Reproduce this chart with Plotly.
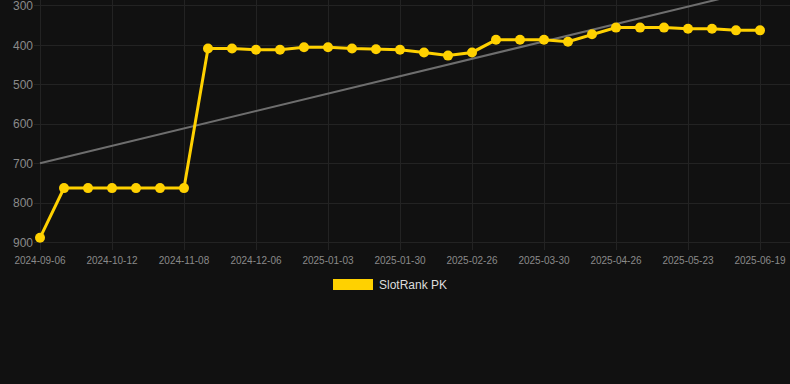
import numpy as np
import plotly.graph_objects as go

dates = [
    "2024-09-06", "2024-09-18", "2024-09-30",
    "2024-10-12", "2024-10-21", "2024-10-30",
    "2024-11-08", "2024-11-17", "2024-11-26",
    "2024-12-06", "2024-12-15", "2024-12-24",
    "2025-01-03", "2025-01-12", "2025-01-21",
    "2025-01-30", "2025-02-08", "2025-02-17",
    "2025-02-26", "2025-03-07", "2025-03-18",
    "2025-03-30", "2025-04-08", "2025-04-17",
    "2025-04-26", "2025-05-05", "2025-05-14",
    "2025-05-23", "2025-06-01", "2025-06-10",
    "2025-06-19",
]
rank = [
    888, 762, 762, 762, 762, 762, 762,
    408, 408, 411, 411, 405, 405, 408, 410, 411,
    418, 426, 418, 386, 386, 386, 391,
    372, 355, 355, 355, 358, 358, 362, 362,
]
tick_labels = dates[::3]
y_ticks = [300, 400, 500, 600, 700, 800, 900]
series_name = "SlotRank PK"

idx = np.arange(len(rank))
slope, intercept = np.polyfit(idx, rank, 1)
trend = intercept + slope * idx

BG = "#111111"
GOLD = "#FFD100"
GRID = "#232323"
TICK = "#8a8a8a"

fig = go.Figure()
fig.add_trace(go.Scatter(
    x=dates, y=trend, mode="lines",
    line=dict(color="#6e6e6e", width=2),
    hoverinfo="skip", showlegend=False,
))
fig.add_trace(go.Scatter(
    x=dates, y=rank, mode="lines+markers", name=series_name,
    line=dict(color=GOLD, width=3),
    marker=dict(color=GOLD, size=10),
    showlegend=False,
))

fig.update_layout(
    width=790, height=384,
    paper_bgcolor=BG, plot_bgcolor=BG,
    margin=dict(l=34, r=0, t=0, b=134),
    showlegend=False,
    font=dict(family="Liberation Sans, Arial, sans-serif", color=TICK),
    xaxis=dict(
        type="category",
        categoryorder="array", categoryarray=dates,
        range=[-0.25, len(dates) + 0.25],
        tickmode="array", tickvals=tick_labels, ticktext=tick_labels,
        tickfont=dict(size=10, color=TICK),
        showgrid=True, gridcolor=GRID, gridwidth=1,
        zeroline=False, showline=False, ticks="",
        tickangle=0, ticklabeloverflow="allow",
        ticklabelstandoff=3,
    ),
    yaxis=dict(
        range=[919, 285],
        tickmode="array", tickvals=y_ticks,
        tickfont=dict(size=12, color=TICK),
        showgrid=True, gridcolor=GRID, gridwidth=1,
        zeroline=False, showline=False, ticks="",
        ticklabeloverflow="allow",
    ),
)

# custom legend
fig.add_shape(type="rect", xref="paper", yref="paper",
              x0=(333 - 34) / 756, x1=(373 - 34) / 756,
              y0=-(290 - 250) / 250, y1=-(279 - 250) / 250,
              fillcolor=GOLD, line=dict(width=0))
fig.add_annotation(xref="paper", yref="paper",
                   x=(377 - 34) / 756, y=-(284.5 - 250) / 250,
                   xanchor="left", yanchor="middle",
                   text=series_name, showarrow=False,
                   font=dict(size=12, color="#dddddd"))

fig.write_html("out.html",
               config={"displayModeBar": False},
               post_script="document.body.style.margin='0';document.body.style.background='#111111';")
